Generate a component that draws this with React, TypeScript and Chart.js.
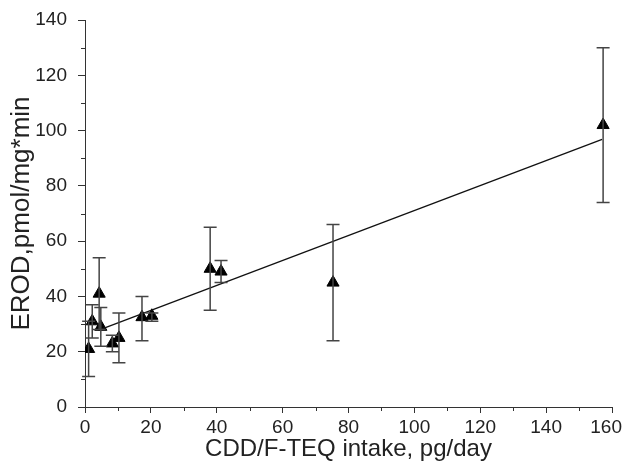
import React, { useEffect, useRef } from "react";
import { Chart, registerables } from "chart.js";

Chart.register(...registerables);

const xValues = [1.1, 2.2, 4.3, 4.8, 8.3, 10.3, 17.3, 20.3, 38, 41.3, 75.3, 157.3];
const yValues = [21, 31, 41, 29, 23, 25, 32.5, 33, 50, 49, 45, 102];
const yLow = [11, 25, 28, 22, 20, 16, 24, 31, 35, 45, 24, 74];
const yHigh = [31, 37, 54, 36, 26, 34, 40, 34, 65, 53, 66, 130];
const fitX = [4, 157];
const fitY = [27.7, 96.8];

const xTitle = "CDD/F-TEQ intake, pg/day";
const yTitle = "EROD,pmol/mg*min";
const X_MAX = 160;

const FONT = "'Liberation Sans', Arial, sans-serif";

const errorBarPlugin = {
  id: "errorBars",
  afterDatasetsDraw(chart: any) {
    const ctx = chart.ctx;
    const xs = chart.scales.x;
    const ys = chart.scales.y;
    ctx.save();
    ctx.strokeStyle = "#444";
    ctx.lineWidth = 1.5;
    for (let i = 0; i < xValues.length; i++) {
      const px = xs.getPixelForValue(xValues[i]);
      const pl = ys.getPixelForValue(yLow[i]);
      const ph = ys.getPixelForValue(yHigh[i]);
      ctx.beginPath();
      ctx.moveTo(px, pl);
      ctx.lineTo(px, ph);
      ctx.moveTo(px - 6.5, pl);
      ctx.lineTo(px + 6.5, pl);
      ctx.moveTo(px - 6.5, ph);
      ctx.lineTo(px + 6.5, ph);
      ctx.stroke();
    }
    ctx.restore();
  },
};

const minorTickPlugin = {
  id: "minorTicks",
  afterDraw(chart: any) {
    const ctx = chart.ctx;
    const xs = chart.scales.x;
    const ys = chart.scales.y;
    const area = chart.chartArea;
    ctx.save();
    ctx.strokeStyle = "#333";
    ctx.lineWidth = 1;
    ctx.beginPath();
    for (let v = 10; v < 160; v += 20) {
      const p = Math.round(xs.getPixelForValue(v)) + 0.5;
      ctx.moveTo(p, area.bottom);
      ctx.lineTo(p, area.bottom + 4);
    }
    for (let v = 10; v < 140; v += 20) {
      const p = Math.round(ys.getPixelForValue(v)) + 0.5;
      ctx.moveTo(area.left, p);
      ctx.lineTo(area.left - 4, p);
    }
    ctx.stroke();
    // last x tick label, kept inside the canvas
    ctx.font = "19px " + FONT;
    ctx.fillStyle = "#222";
    ctx.textBaseline = "middle";
    ctx.textAlign = "center";
    const label = String(X_MAX);
    const w = ctx.measureText(label).width;
    const tx = Math.min(xs.getPixelForValue(X_MAX), chart.width - w / 2 - 1);
    ctx.fillText(label, tx, area.bottom + 6 + 3 + (19 * 1.2) / 2);
    ctx.restore();
  },
};

export default function App() {
  const ref = useRef<HTMLCanvasElement | null>(null);
  useEffect(() => {
    if (!ref.current) return;
    const chart = new Chart(ref.current, {
      type: "scatter",
      data: {
        datasets: [
          {
            type: "line",
            data: fitX.map((x, i) => ({ x, y: fitY[i] })),
            borderColor: "#111",
            borderWidth: 1.3,
            pointRadius: 0,
            fill: false,
          } as any,
          {
            data: xValues.map((x, i) => ({ x, y: yValues[i] })),
            pointStyle: "triangle",
            pointRadius: 7,
            backgroundColor: "#000",
            borderColor: "#000",
            borderWidth: 1,
          },
        ],
      },
      options: {
        responsive: false,
        animation: false,
        layout: { padding: { left: 0, right: 11, top: 20, bottom: 0 } },
        plugins: { legend: { display: false }, tooltip: { enabled: false } },
        scales: {
          x: {
            type: "linear",
            min: 0,
            max: X_MAX,
            afterFit: (s: any) => {
              s.height = 54;
              s.paddingRight = 0;
              s.paddingLeft = 0;
            },
            ticks: {
              stepSize: 20,
              color: "#222",
              font: { family: FONT, size: 19 },
              padding: 3,
              maxRotation: 0,
              callback: (v: any) => (Number(v) === X_MAX ? "" : String(v)),
            },
            grid: {
              drawOnChartArea: false,
              drawTicks: true,
              tickLength: 6,
              tickColor: "#333",
            },
            border: { display: true, color: "#333", width: 1 },
            title: {
              display: true,
              text: xTitle,
              color: "#222",
              font: { family: FONT, size: 24, lineHeight: 1 },
              padding: { top: 0, bottom: 0 },
            },
          },
          y: {
            type: "linear",
            min: 0,
            max: 140,
            afterFit: (s: any) => {
              s.width = 85;
              s.paddingTop = 0;
              s.paddingBottom = 0;
            },
            ticks: {
              stepSize: 20,
              color: "#222",
              font: { family: FONT, size: 19 },
              padding: 11,
            },
            grid: {
              drawOnChartArea: false,
              drawTicks: true,
              tickLength: 7,
              tickColor: "#333",
            },
            border: { display: true, color: "#333", width: 1 },
            title: {
              display: true,
              text: yTitle,
              color: "#222",
              font: { family: FONT, size: 26, lineHeight: 1 },
              padding: { top: 9, bottom: 0 },
            },
          },
        },
      },
      plugins: [errorBarPlugin, minorTickPlugin],
    });
    return () => chart.destroy();
  }, []);
  return (
    <div style={{ position: "fixed", left: 0, top: 0, width: 623, height: 461, background: "#fff" }}>
      <canvas ref={ref} width={623} height={461} style={{ display: "block" }} />
    </div>
  );
}
